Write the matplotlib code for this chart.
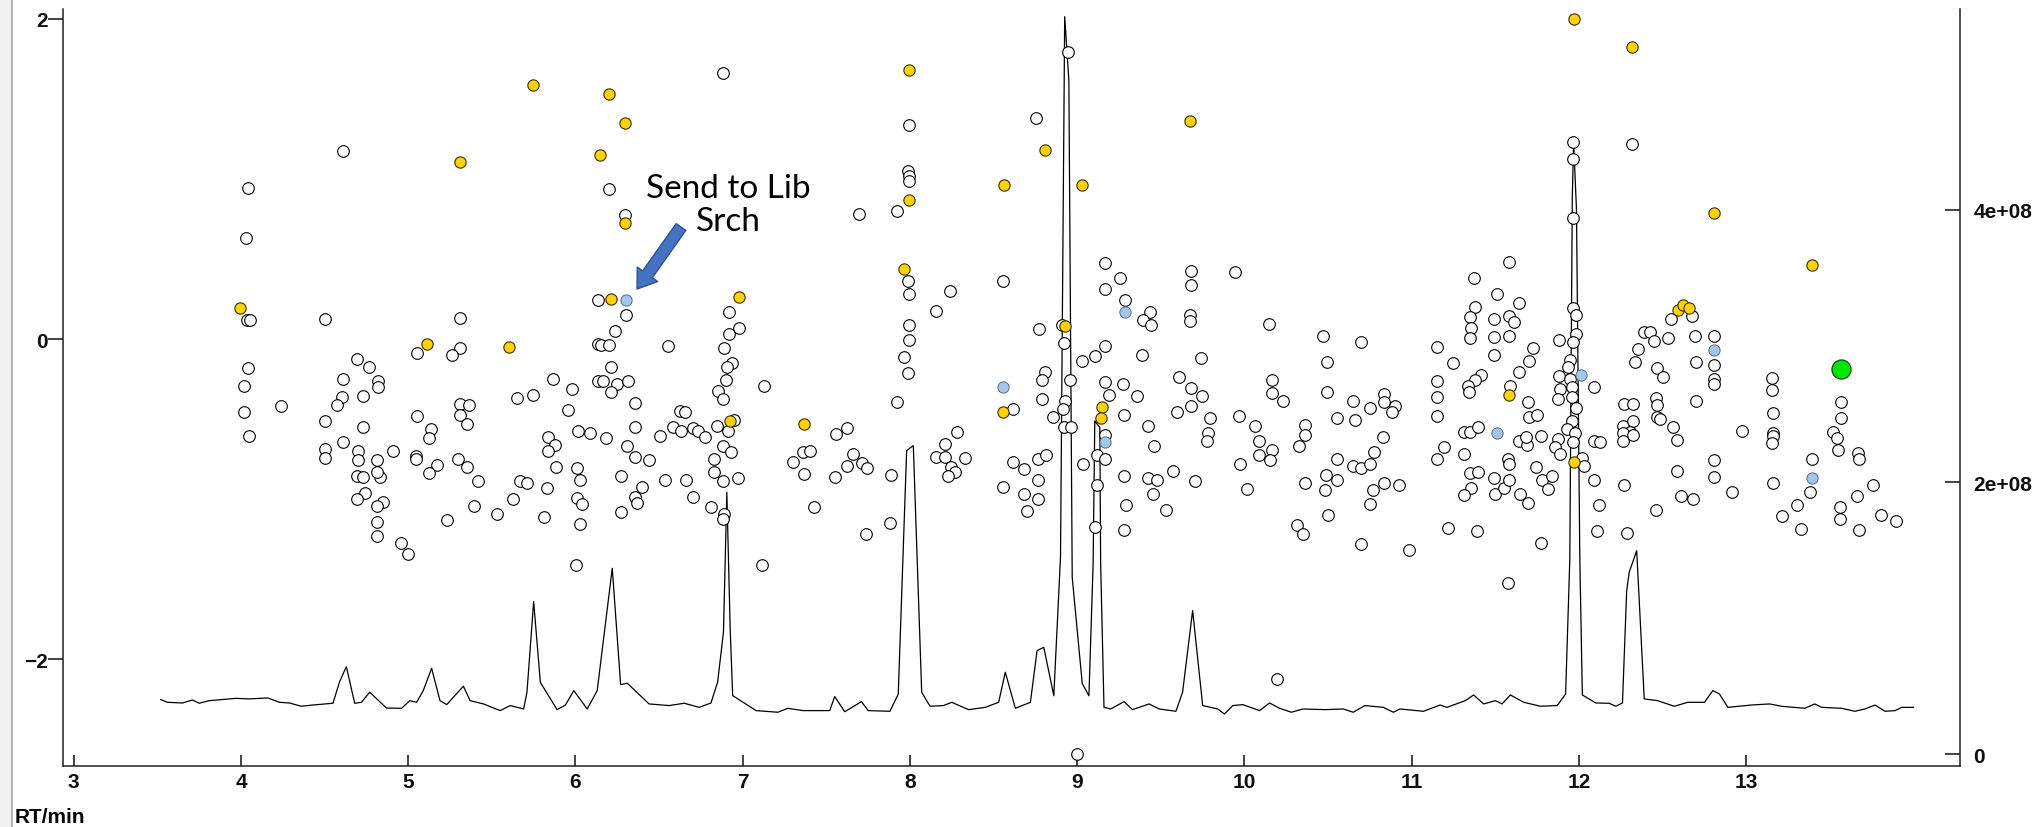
import numpy as np
import matplotlib
matplotlib.use('Agg')
import matplotlib.pyplot as plt
import matplotlib.ticker as ticker
from matplotlib.patches import FancyArrowPatch, Rectangle
from matplotlib.lines import Line2D

# ---- data ----
# features that were not sent (open circles): (RT min, left-axis score)
white_pts = [
    (4.040, 0.945), (4.608, 1.173), (6.200, 0.935), (6.296, 0.775),
    (4.030, 0.629), (4.034, 0.116), (4.054, 0.116), (4.504, 0.124), (5.310, 0.133), (5.052, -0.090),
    (5.310, -0.059), (5.262, -0.100), (6.133, 0.245), (6.133, -0.034), (6.137, -0.262), (4.040, -0.179),
    (4.020, -0.291), (4.020, -0.457), (4.046, -0.605), (4.241, -0.420), (4.692, -0.125), (4.763, -0.173),
    (4.612, -0.248), (4.817, -0.260), (4.817, -0.302), (4.604, -0.362), (4.574, -0.412), (4.728, -0.353),
    (4.504, -0.513), (4.728, -0.549), (4.612, -0.640), (4.504, -0.686), (4.504, -0.744), (4.700, -0.700),
    (4.700, -0.752), (4.815, -0.752), (4.911, -0.696), (4.692, -0.852), (4.728, -0.862), (4.831, -0.862),
    (4.811, -0.831), (4.740, -0.960), (4.692, -1.001), (4.849, -1.018), (4.815, -1.045), (4.815, -1.143),
    (4.815, -1.230), (4.955, -1.273), (5.001, -1.340), (5.052, -0.478), (5.134, -0.561), (5.122, -0.619),
    (5.044, -0.731), (5.044, -0.748), (5.170, -0.785), (5.122, -0.837), (5.310, -0.405), (5.365, -0.412),
    (5.310, -0.474), (5.353, -0.532), (5.300, -0.748), (5.353, -0.800), (5.415, -0.889), (5.395, -1.043),
    (5.529, -1.093), (5.230, -1.128), (5.652, -0.366), (5.744, -0.347), (5.868, -0.248), (5.981, -0.312),
    (5.953, -0.441), (6.017, -0.574), (6.087, -0.586), (5.838, -0.613), (5.878, -0.661), (5.838, -0.700),
    (5.884, -0.796), (6.007, -0.804), (6.027, -0.879), (5.668, -0.889), (5.708, -0.900), (5.624, -0.997),
    (5.832, -0.931), (6.007, -0.993), (6.037, -1.028), (5.812, -1.112), (6.027, -1.153), (6.005, -1.412),
    (6.300, 0.149), (6.238, 0.052), (6.151, -0.036), (6.202, -0.036), (6.212, -0.177), (6.167, -0.264),
    (6.246, -0.281), (6.316, -0.264), (6.210, -0.329), (6.354, -0.399), (6.354, -0.549), (6.306, -0.669),
    (6.354, -0.734), (6.442, -0.752), (6.272, -0.852), (6.396, -0.925), (6.356, -0.987), (6.366, -1.022),
    (6.272, -1.082), (6.553, -0.042), (6.182, -0.615), (6.507, -0.603), (6.581, -0.551), (6.625, -0.447),
    (6.655, -0.453), (6.631, -0.571), (6.701, -0.557), (6.735, -0.571), (6.776, -0.613), (6.537, -0.877),
    (6.661, -0.877), (6.705, -0.983), (6.810, -1.049), (6.888, -1.091), (6.880, -1.122), (6.918, 0.170),
    (6.980, 0.068), (6.916, 0.029), (6.888, -0.059), (6.934, -0.152), (6.904, -0.172), (6.900, -0.254),
    (6.854, -0.327), (6.884, -0.374), (7.129, -0.291), (6.948, -0.503), (6.844, -0.540), (6.910, -0.576),
    (6.880, -0.665), (6.928, -0.702), (6.830, -0.748), (6.828, -0.827), (6.880, -0.889), (6.974, -0.868),
    (7.558, -0.592), (7.621, -0.557), (7.358, -0.707), (7.402, -0.696), (7.303, -0.769), (7.366, -0.842),
    (7.428, -1.051), (7.552, -0.862), (7.661, -0.719), (7.621, -0.794), (7.711, -0.773), (7.741, -0.806),
    (7.887, -0.846), (7.737, -1.217), (7.881, -1.147), (7.986, 0.363), (7.996, 0.280), (7.996, 0.087),
    (7.996, -0.005), (7.966, -0.110), (7.986, -0.214), (7.924, -0.391), (8.239, 0.297), (8.154, 0.172),
    (8.279, -0.582), (8.209, -0.655), (8.156, -0.734), (8.209, -0.738), (8.329, -0.744), (8.243, -0.800),
    (8.269, -0.831), (8.229, -0.852), (7.115, -1.412), (9.000, -2.592), (10.192, -2.123),
    (6.885, 1.661), (7.995, 1.337), (7.987, 1.049), (7.995, 1.018), (7.995, 0.987), (7.693, 0.779),
    (7.923, 0.797), (8.947, 1.790), (8.755, 1.377),
    (8.558, 0.363), (9.168, 0.473), (9.258, 0.380), (9.168, 0.315), (9.286, 0.245), (9.435, 0.166),
    (9.391, 0.118), (9.439, 0.089), (9.680, 0.425), (9.680, 0.336), (9.945, 0.419), (9.674, 0.149),
    (9.674, 0.114), (8.769, 0.062), (8.907, 0.087), (8.919, -0.025), (9.168, -0.042), (9.106, -0.104),
    (9.030, -0.135), (9.389, -0.098), (9.742, -0.117), (10.149, 0.095), (10.467, 0.020), (10.491, -0.142),
    (8.614, -0.437), (8.807, -0.204), (8.787, -0.254), (8.787, -0.374), (8.853, -0.484), (8.957, -0.254),
    (8.929, -0.389), (8.917, -0.437), (8.921, -0.547), (8.965, -0.547), (9.168, -0.270), (9.188, -0.347),
    (9.276, -0.281), (9.355, -0.353), (9.282, -0.472), (9.168, -0.599), (9.116, -0.723), (9.168, -0.748),
    (9.036, -0.779), (9.116, -0.910), (9.106, -1.174), (9.282, -0.852), (9.292, -1.035), (9.282, -1.195),
    (9.425, -0.540), (9.461, -0.669), (9.425, -0.868), (9.475, -0.877), (9.451, -0.966), (9.531, -1.064),
    (9.575, -0.825), (9.706, -0.889), (9.610, -0.235), (9.594, -0.453), (9.680, -0.306), (9.744, -0.353),
    (9.680, -0.416), (9.794, -0.495), (9.784, -0.586), (9.778, -0.638), (8.614, -0.769), (8.684, -0.810),
    (8.767, -0.748), (8.813, -0.723), (8.763, -0.877), (8.558, -0.925), (8.684, -0.966), (8.763, -0.997),
    (8.702, -1.072), (9.965, -0.482), (10.063, -0.540), (10.089, -0.638), (10.163, -0.692), (10.089, -0.723),
    (10.153, -0.752), (9.973, -0.779), (10.017, -0.935), (10.166, -0.254), (10.166, -0.337), (10.228, -0.385),
    (10.362, -0.536), (10.362, -0.596), (10.324, -0.669), (10.491, -0.333), (10.555, -0.495), (10.555, -0.748),
    (10.487, -0.846), (10.555, -0.879), (10.481, -0.945), (10.362, -0.900), (10.501, -1.101), (10.316, -1.159),
    (10.352, -1.215),
    (10.697, -0.017), (10.651, -0.385), (10.661, -0.503), (10.647, -0.790), (10.697, -0.806), (10.697, -1.278),
    (10.750, -0.432), (10.836, -0.343), (10.836, -0.395), (10.900, -0.416), (10.880, -0.457), (10.826, -0.613),
    (10.776, -0.702), (10.750, -0.779), (10.836, -0.898), (10.926, -0.910), (10.766, -0.945), (10.750, -1.028),
    (10.986, -1.319), (11.153, -0.052), (11.245, -0.152), (11.153, -0.264), (11.153, -0.364), (11.153, -0.482),
    (11.193, -0.675), (11.153, -0.748), (11.215, -1.180), (11.392, -1.199), (11.374, 0.380), (11.508, 0.280),
    (11.581, 0.481), (11.641, 0.228), (11.378, 0.203), (11.348, 0.135), (11.352, 0.066), (11.348, 0.004),
    (11.492, 0.124), (11.581, 0.141), (11.613, 0.108), (11.492, 0.014), (11.581, 0.020), (11.492, -0.100),
    (11.414, -0.225), (11.378, -0.254), (11.338, -0.291), (11.342, -0.333), (11.727, -0.059), (11.703, -0.135),
    (11.643, -0.204), (11.587, -0.291), (11.697, -0.391), (11.703, -0.484), (11.747, -0.474), (11.312, -0.578),
    (11.348, -0.582), (11.398, -0.547), (11.312, -0.717), (11.641, -0.634), (11.687, -0.661), (11.683, -0.613),
    (11.773, -0.607), (11.573, -0.748), (11.581, -0.779), (11.348, -0.837), (11.394, -0.827), (11.352, -0.931),
    (11.312, -0.972), (11.492, -0.868), (11.498, -0.966), (11.552, -0.931), (11.581, -0.877), (11.647, -0.966),
    (11.697, -1.022), (11.741, -0.796), (11.781, -0.877), (11.817, -0.935), (11.841, -0.852), (11.773, -1.274),
    (11.576, -1.522),
    (11.966, 1.229), (12.319, 1.219), (11.966, 1.126), (11.966, 0.758),
    (11.966, 0.193), (11.980, 0.149), (11.980, 0.031), (11.966, -0.017), (11.880, -0.005), (11.946, -0.131),
    (11.932, -0.177), (11.880, -0.229), (11.946, -0.250), (11.886, -0.312), (11.876, -0.374), (11.960, -0.302),
    (11.960, -0.364), (11.980, -0.432), (11.960, -0.509), (11.926, -0.561), (11.976, -0.586), (11.876, -0.623),
    (11.856, -0.675), (11.886, -0.717), (11.966, -0.644), (12.020, -0.744), (12.030, -0.794), (12.092, -0.302),
    (12.090, -0.634), (12.126, -0.644), (12.092, -0.877), (12.120, -1.035), (12.110, -1.201),
    (12.285, -1.209), (12.269, -0.405), (12.321, -0.405), (12.261, -0.540), (12.325, -0.509), (12.305, -0.582),
    (12.265, -0.586), (12.265, -0.634), (12.325, -0.599), (12.269, -0.910), (12.460, -1.064), (12.335, -0.146),
    (12.355, -0.063), (12.389, 0.041), (12.424, 0.045), (12.448, -0.015), (12.534, 0.004), (12.548, 0.124),
    (12.678, 0.141), (12.694, 0.020), (12.468, -0.183), (12.504, -0.239), (12.700, -0.142), (12.460, -0.370),
    (12.464, -0.412), (12.464, -0.489), (12.484, -0.499), (12.564, -0.551), (12.584, -0.628), (12.700, -0.385),
    (12.807, 0.016), (12.807, -0.162), (12.807, -0.250), (12.807, -0.281), (12.584, -0.825), (12.608, -0.981),
    (12.684, -0.997), (12.807, -0.754), (12.807, -0.862), (12.913, -0.952),
    (12.975, -0.576), (13.152, -0.243), (13.152, -0.318), (13.162, -0.464), (13.162, -0.586), (13.162, -0.607),
    (13.152, -0.648), (13.162, -0.900), (13.392, -0.748), (13.382, -0.956), (13.302, -1.035), (13.212, -1.107),
    (13.328, -1.184), (13.567, -0.391), (13.567, -0.495), (13.521, -0.582), (13.541, -0.619), (13.547, -0.692),
    (13.667, -0.711), (13.675, -0.748), (13.760, -0.910), (13.665, -0.981), (13.561, -1.049), (13.561, -1.126),
    (13.675, -1.195), (13.804, -1.101), (13.894, -1.138),
]

# yellow (identified) features
yellow_pts = [
    (3.994, 0.195), (5.114, -0.034), (5.603, -0.052), (5.749, 1.587), (5.307, 1.107), (6.200, 1.531),
    (6.296, 1.348), (6.147, 1.146), (6.296, 0.723), (6.210, 0.253), (6.980, 0.263), (6.924, -0.511),
    (7.366, -0.530), (7.966, 0.436), (7.995, 1.678), (7.995, 0.866), (8.805, 1.182), (8.560, 0.964),
    (9.027, 0.964), (9.672, 1.358), (8.929, 0.079), (8.558, -0.457), (9.150, -0.426), (9.144, -0.495),
    (11.581, -0.347), (11.970, -0.769), (12.594, 0.180), (12.624, 0.212), (12.660, 0.195), (13.392, 0.463),
    (11.968, 2.000), (12.319, 1.823), (12.806, 0.787),
]

# light blue (sent to library search) features
blue_pts = [
    (6.300, 0.245), (9.286, 0.170), (8.558, -0.297), (9.168, -0.640), (11.508, -0.586),
    (12.012, -0.225), (12.807, -0.069), (13.392, -0.869),
]

# selected feature
green_pts = [(13.567, -0.187)]

# total ion chromatogram: RT (min) and intensity (x 1e8, right axis)
tic_rt = [
    3.52, 3.56, 3.65, 3.71, 3.75, 3.81, 3.97, 4.05, 4.16, 4.23, 4.29, 4.36, 4.43, 4.55, 4.59, 4.63,
    4.68, 4.72, 4.77, 4.87, 4.96, 5.01, 5.05, 5.09, 5.14, 5.19, 5.23, 5.33, 5.37, 5.45, 5.55, 5.61,
    5.69, 5.71, 5.75, 5.79, 5.89, 5.94, 5.99, 6.07, 6.13, 6.22, 6.27, 6.31, 6.44, 6.56, 6.65, 6.74,
    6.81, 6.85, 6.885, 6.905, 6.925, 6.94, 7.08, 7.21, 7.27, 7.36, 7.52, 7.55, 7.61, 7.71, 7.75, 7.88,
    7.93, 7.98, 8.02, 8.07, 8.12, 8.20, 8.25, 8.35, 8.45, 8.53, 8.57, 8.63, 8.72, 8.76, 8.80, 8.86,
    8.90, 8.925, 8.95, 8.97, 9.03, 9.07, 9.095, 9.105, 9.135, 9.14, 9.16, 9.20, 9.28, 9.33, 9.43, 9.49,
    9.59, 9.63, 9.69, 9.75, 9.84, 9.88, 9.93, 9.99, 10.09, 10.15, 10.21, 10.28, 10.35, 10.48, 10.59, 10.65,
    10.72, 10.83, 10.89, 10.93, 11.07, 11.17, 11.21, 11.32, 11.37, 11.43, 11.50, 11.54, 11.59, 11.67, 11.77, 11.87,
    11.92, 11.945, 11.96, 11.968, 11.985, 12.005, 12.02, 12.10, 12.18, 12.22, 12.26, 12.285, 12.30, 12.345, 12.39, 12.47,
    12.57, 12.65, 12.75, 12.80, 12.84, 12.89, 13.03, 13.14, 13.21, 13.35, 13.41, 13.45, 13.57, 13.65, 13.71, 13.77,
    13.83, 13.89, 13.93, 14.00,
]
tic_e8 = [
    0.402, 0.382, 0.377, 0.399, 0.375, 0.394, 0.411, 0.407, 0.414, 0.382, 0.377, 0.353, 0.362, 0.375, 0.534, 0.644,
    0.375, 0.382, 0.456, 0.340, 0.338, 0.394, 0.382, 0.468, 0.632, 0.394, 0.365, 0.500, 0.394, 0.370, 0.321, 0.358,
    0.333, 0.456, 1.122, 0.529, 0.328, 0.362, 0.468, 0.333, 0.468, 1.367, 0.512, 0.522, 0.370, 0.358, 0.375, 0.345,
    0.377, 0.530, 0.900, 1.925, 0.920, 0.431, 0.321, 0.309, 0.338, 0.321, 0.321, 0.424, 0.313, 0.387, 0.321, 0.316,
    0.443, 2.231, 2.268, 0.456, 0.353, 0.358, 0.382, 0.328, 0.345, 0.382, 0.603, 0.338, 0.382, 0.762, 0.786, 0.430,
    1.450, 5.420, 4.950, 1.300, 0.520, 0.430, 1.400, 2.450, 2.400, 1.400, 0.345, 0.333, 0.387, 0.328, 0.370, 0.333,
    0.316, 0.456, 1.056, 0.358, 0.333, 0.296, 0.358, 0.365, 0.321, 0.377, 0.338, 0.309, 0.333, 0.328, 0.333, 0.309,
    0.358, 0.345, 0.309, 0.333, 0.316, 0.362, 0.345, 0.394, 0.436, 0.370, 0.394, 0.370, 0.436, 0.382, 0.353, 0.358,
    0.443, 1.430, 4.100, 4.500, 4.000, 1.430, 0.436, 0.377, 0.375, 0.353, 0.377, 1.200, 1.337, 1.496, 0.407, 0.394,
    0.353, 0.382, 0.382, 0.468, 0.443, 0.345, 0.362, 0.370, 0.353, 0.338, 0.370, 0.345, 0.338, 0.316, 0.333, 0.362,
    0.316, 0.321, 0.345, 0.345,
]

x_ticks = [3, 4, 5, 6, 7, 8, 9, 10, 11, 12, 13]
left_ticks = [-2, 0, 2]
right_ticks = [0, 2e8, 4e8]

# ---- figure ----
W, H = 2042, 828
fig = plt.figure(figsize=(W / 100, H / 100), dpi=100)
fig.patch.set_facecolor('white')

# window border strip on the far left
fig.patches.append(Rectangle((0, 0), 11 / W, 1, transform=fig.transFigure,
                             facecolor='#f0f0f0', edgecolor='none'))
fig.lines.append(Line2D([12 / W, 12 / W], [0, 1], transform=fig.transFigure,
                        color='#a8a8a8', lw=1.2))

rect = [62.5 / W, 1 - 767 / H, (1960 - 62.5) / W, (767 - 10) / H]
ax = fig.add_axes(rect)
ax2 = ax.twinx()
ax.set_zorder(ax2.get_zorder() + 1)
ax.patch.set_visible(False)

tick_font = dict(family='Liberation Sans', size=15, weight='bold')

# chromatogram on the right axis
ax2.plot(tic_rt, np.array(tic_e8) * 1e8, color='black', lw=0.9)
ax2.set_ylim(-0.086e8, 5.476e8)
ax2.set_yticks(right_ticks)
ax2.yaxis.set_major_formatter(ticker.FuncFormatter(lambda v, _: '0' if v == 0 else f'{v:.0e}'))

# feature scores on the left axis
wp = np.array(white_pts)
yp = np.array(yellow_pts)
bp = np.array(blue_pts)
gp = np.array(green_pts)
ax.scatter(wp[:, 0], wp[:, 1], s=70, facecolor='white', edgecolor='black', linewidth=0.8, zorder=3, clip_on=False)
ax.scatter(yp[:, 0], yp[:, 1], s=66, facecolor='#ffd200', edgecolor='#3a3000', linewidth=0.8, zorder=4, clip_on=False)
ax.scatter(bp[:, 0], bp[:, 1], s=66, facecolor='#a4c6ec', edgecolor='#4a5a70', linewidth=0.6, zorder=4, clip_on=False)
ax.scatter(gp[:, 0], gp[:, 1], s=190, facecolor='#00e600', edgecolor='#0a3a0a', linewidth=0.8, zorder=5, clip_on=False)

ax.set_xlim(2.933, 14.278)
ax.set_ylim(-2.665, 2.06)
ax.set_xticks(x_ticks)
ax.set_yticks(left_ticks)

for s in ['top', 'right']:
    ax.spines[s].set_visible(False)
for s in ['top', 'left', 'bottom']:
    ax2.spines[s].set_visible(False)
for sp in [ax.spines['left'], ax.spines['bottom'], ax2.spines['right']]:
    sp.set_linewidth(1.1)
    sp.set_color('#202020')

ax.tick_params(axis='x', direction='in', length=7.7, width=1.1, pad=4.5, colors='#101010')
ax.tick_params(axis='y', direction='out', length=10.5, width=1.1, pad=0.3, colors='#101010')
ax2.tick_params(axis='y', direction='in', length=11, width=1.1, pad=9.5, colors='#101010')
for lab in ax.get_xticklabels() + ax.get_yticklabels() + ax2.get_yticklabels():
    lab.set_fontproperties(tick_font)

fig.text(15 / W, 1 - 818 / H, 'RT/min', ha='left', va='center', **tick_font)

# callout
ax.text(6.915, 0.839, 'Send to Lib\nSrch', ha='center', va='center',
        fontsize=24, family='Lato', linespacing=1.15, zorder=6)
arrow = FancyArrowPatch((6.631, 0.699), (6.368, 0.312),
                        arrowstyle='simple,head_length=1.3,head_width=1.8,tail_width=0.85',
                        mutation_scale=10, facecolor='#4472c4', edgecolor='#2f528f',
                        lw=1, shrinkA=0, shrinkB=0, zorder=6)
ax.add_patch(arrow)

fig.savefig('out.png', dpi=100)
